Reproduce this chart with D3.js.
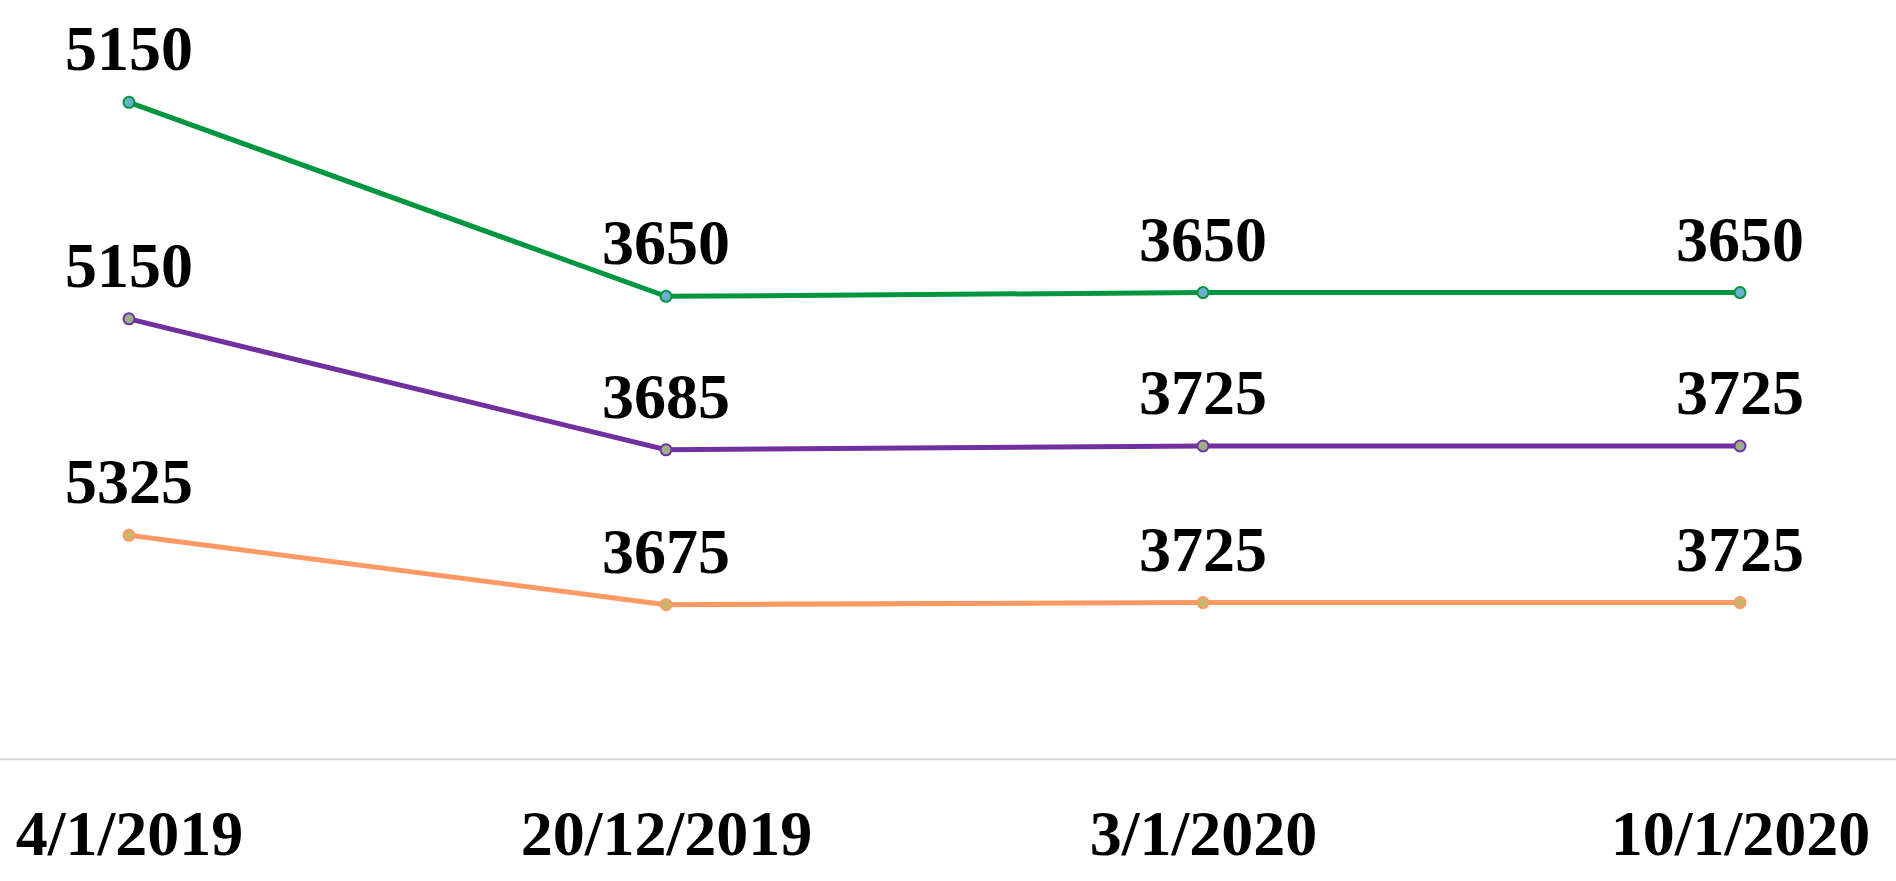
<!DOCTYPE html>
<html>
<head>
<meta charset="utf-8">
<script src="https://cdn.jsdelivr.net/npm/d3@7"></script>
<style>
  html, body { margin: 0; padding: 0; background: #fff; }
  svg { display: block; }
</style>
</head>
<body>
<svg id="chart" width="1896" height="881"></svg>
<script>
const categories = ["4/1/2019", "20/12/2019", "3/1/2020", "10/1/2020"];
const seriesNames = ["Orange", "Purple", "Green"];
const orangeValues = [5325, 3675, 3725, 3725];
const purpleValues = [5150, 3685, 3725, 3725];
const greenValues  = [5150, 3650, 3650, 3650];

const lineColors = ["#FF9966", "#7030A0", "#00963F"];
const pointFills = ["#C9B86A", "#9CAF88", "#6AAED0"];

const svg = d3.select("#chart");
const W = 1896, H = 881;

const x = d3.scalePoint().domain(categories).range([129, 1740]);
const y = d3.scaleLinear().domain([0, 18000]).range([759.2, 2.5]);

// stacked data
const table = categories.map((c, i) => ({
  cat: c, Orange: orangeValues[i], Purple: purpleValues[i], Green: greenValues[i]
}));
const stack = d3.stack().keys(seriesNames)(table);

// axis line
svg.append("line")
  .attr("x1", 0).attr("x2", W)
  .attr("y1", y(0)).attr("y2", y(0))
  .attr("stroke", "#d9d9d9").attr("stroke-width", 2);

// x labels
const xAxis = d3.axisBottom(x).tickSize(0).tickPadding(0);
const gx = svg.append("g").attr("transform", `translate(0,${y(0)})`).call(xAxis);
gx.select(".domain").remove();
gx.selectAll("text")
  .attr("y", 96).attr("dy", 0)
  .attr("font-family", "'Liberation Serif', 'Times New Roman', serif")
  .attr("font-weight", "bold")
  .attr("font-size", 64)
  .attr("fill", "#000");

const line = d3.line().x(d => x(d.data.cat)).y(d => y(d[1]));

stack.forEach((layer, si) => {
  svg.append("path")
    .datum(layer)
    .attr("d", line)
    .attr("fill", "none")
    .attr("stroke", lineColors[si])
    .attr("stroke-width", 5);

  svg.selectAll(null).data(layer).enter().append("circle")
    .attr("cx", d => x(d.data.cat))
    .attr("cy", d => y(d[1]))
    .attr("r", 5.5)
    .attr("fill", pointFills[si])
    .attr("stroke", lineColors[si])
    .attr("stroke-width", 2);

  svg.selectAll(null).data(layer).enter().append("text")
    .attr("x", d => x(d.data.cat))
    .attr("y", d => y(d[1]) - 32)
    .attr("text-anchor", "middle")
    .attr("font-family", "'Liberation Serif', 'Times New Roman', serif")
    .attr("font-weight", "bold")
    .attr("font-size", 64)
    .attr("fill", "#000")
    .text(d => d.data[layer.key]);
});
</script>
</body>
</html>
